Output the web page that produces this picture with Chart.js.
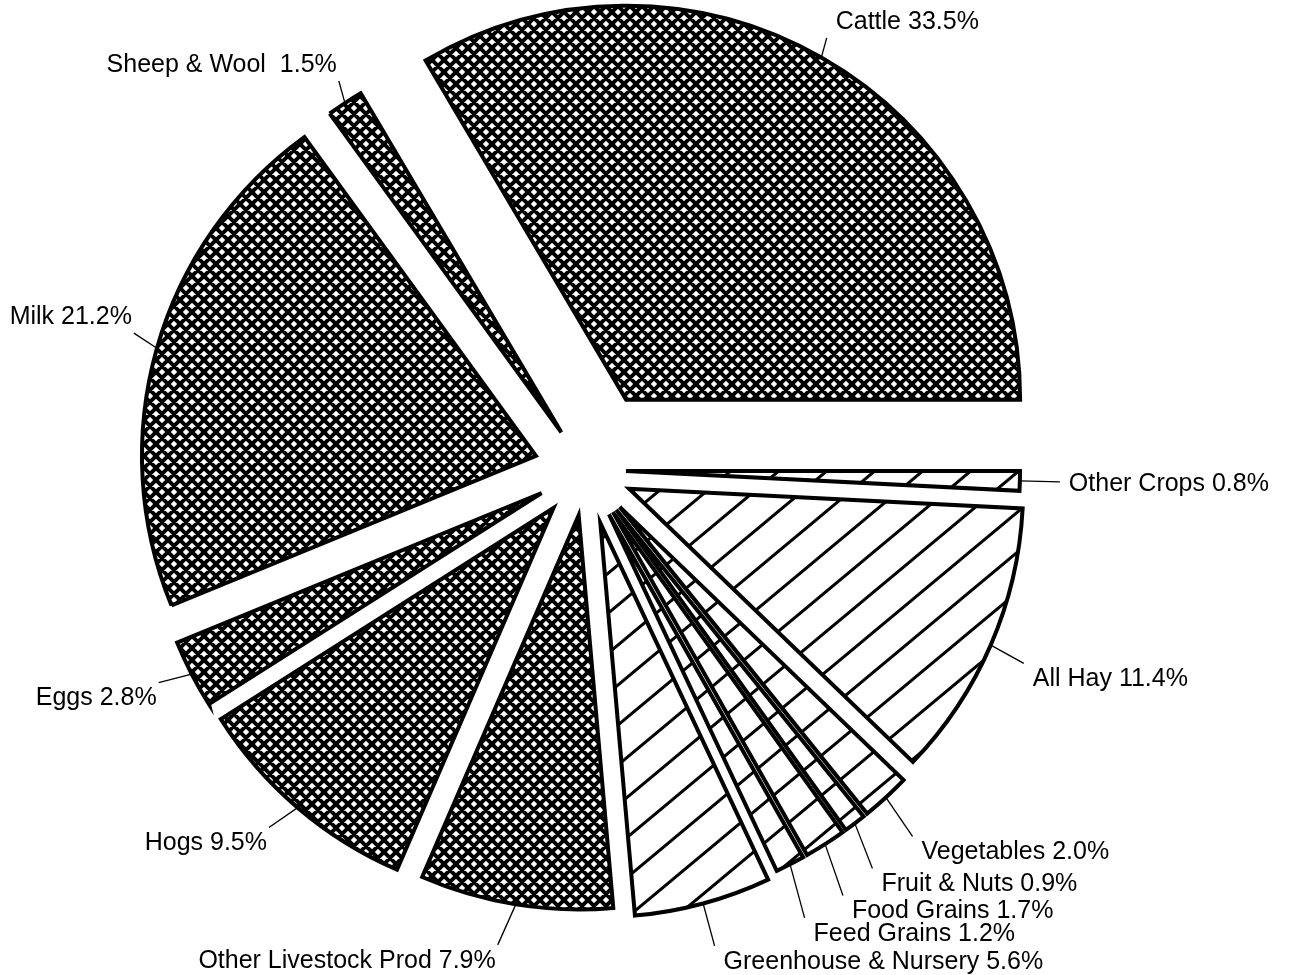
<!DOCTYPE html>
<html lang="en">
<head>
<meta charset="UTF-8">
<title>Cash Receipts by Commodity</title>
<script src="https://cdn.jsdelivr.net/npm/chart.js"></script>
<style>
    body {
        margin: 0;
        background: #fff;
    }
    #wrap {
        width: 1290px;
        height: 975px;
    }
</style>
</head>
<body>
<div id="wrap"><canvas id="pie" width="1290" height="975"></canvas></div>
<script>
    // wedges in drawing order: clockwise, starting at 3 o'clock
    const commodities = ['Other Crops', 'All Hay', 'Vegetables', 'Fruit & Nuts', 'Food Grains',
        'Feed Grains', 'Greenhouse & Nursery', 'Other Livestock Prod', 'Hogs', 'Eggs', 'Milk',
        'Sheep & Wool ', 'Cattle'];
    const shares = [0.8, 11.4, 2.0, 0.9, 1.7, 1.2, 5.6, 7.9, 9.5, 2.8, 21.2, 1.5, 33.5];
    const livestock = ['Other Livestock Prod', 'Hogs', 'Eggs', 'Milk', 'Sheep & Wool ', 'Cattle'];

    // how far each wedge is pulled out (px), leader length, and a nudge for the leader end
    const pullOut = [40, 47, 50, 50, 50, 50, 55, 46, 50, 50, 52, 45, 81];
    const leaderLen = [37, 36, 38, 39, 48, 49, 44, 38, 38, 36, 26, 24, 27];
    const leaderNudge = [[3, 0], [0, 4], [1, 11], [-6, 14], [-8, 11], [-8, 10], [0, 0],
        [-12, 3], [-4, -9], [-1, -8], [2, -8], [7, -2], [-8, 4]];

    function crossHatch() {
        const p = 12;
        const c = document.createElement('canvas');
        c.width = p; c.height = p;
        const g = c.getContext('2d');
        g.fillStyle = '#fff';
        g.fillRect(0, 0, p, p);
        g.strokeStyle = '#000';
        g.lineWidth = 4;
        g.beginPath();
        for (const k of [-p, 0, p]) {
            g.moveTo(k - p, -p); g.lineTo(k + 2 * p, 2 * p);
            g.moveTo(k + 2 * p, -p); g.lineTo(k - p, 2 * p);
        }
        g.stroke();
        return g.createPattern(c, 'repeat');
    }

    function diagHatch() {
        const w = 48, h = 40;
        const c = document.createElement('canvas');
        c.width = w; c.height = h;
        const g = c.getContext('2d');
        g.fillStyle = '#fff';
        g.fillRect(0, 0, w, h);
        g.strokeStyle = '#000';
        g.lineWidth = 3;
        g.beginPath();
        for (const k of [-h, 0, h]) {
            g.moveTo(-w, 2 * h + k); g.lineTo(2 * w, -h + k);
        }
        g.stroke();
        return g.createPattern(c, 'repeat');
    }

    const cross = crossHatch();
    const hatch = diagHatch();

    // push every wedge out along its bisector
    const explode = {
        id: 'explode',
        afterDatasetUpdate(chart, args) {
            args.meta.data.forEach((arc, i) => {
                const mid = (arc.startAngle + arc.endAngle) / 2;
                arc.x += Math.cos(mid) * pullOut[i];
                arc.y += Math.sin(mid) * pullOut[i];
            });
        }
    };

    // labels with leader lines, outside the wedges
    const leaderLabels = {
        id: 'leaderLabels',
        afterDatasetsDraw(chart) {
            const ctx = chart.ctx;
            const arcs = chart.getDatasetMeta(0).data;
            ctx.save();
            ctx.font = '25px "Liberation Sans", Arial, sans-serif';
            ctx.fillStyle = '#000';
            ctx.strokeStyle = '#000';
            ctx.lineWidth = 1.3;
            ctx.textBaseline = 'middle';
            arcs.forEach((arc, i) => {
                const mid = (arc.startAngle + arc.endAngle) / 2;
                const cos = Math.cos(mid), sin = Math.sin(mid);
                const r0 = arc.outerRadius;
                const r1 = r0 + leaderLen[i];
                const x1 = arc.x + cos * r1 + leaderNudge[i][0];
                const y1 = arc.y + sin * r1 + leaderNudge[i][1];
                ctx.beginPath();
                ctx.moveTo(arc.x + cos * r0, arc.y + sin * r0);
                ctx.lineTo(x1, y1);
                ctx.stroke();

                const text = commodities[i] + ' ' + shares[i].toFixed(1) + '%';
                const onRight = cos >= 0;
                ctx.textAlign = onRight ? 'left' : 'right';
                const ty = Math.abs(sin) < 0.1 ? y1 + 2 : y1 + Math.sign(sin) * 16;
                ctx.fillText(text, onRight ? x1 + 9 : x1 - 2, ty);
            });
            ctx.restore();
        }
    };

    new Chart(document.getElementById('pie'), {
        type: 'pie',
        data: {
            labels: commodities,
            datasets: [{
                data: shares,
                backgroundColor: commodities.map(n => livestock.includes(n) ? cross : hatch),
                borderColor: '#000',
                borderWidth: 4,
                borderJoinStyle: 'miter'
            }]
        },
        options: {
            responsive: false,
            animation: false,
            rotation: 90,
            radius: 394,
            layout: { padding: { left: 0, right: 118, top: 0, bottom: 35 } },
            plugins: {
                legend: { display: false },
                tooltip: { enabled: false }
            }
        },
        plugins: [explode, leaderLabels]
    });
</script>
</body>
</html>
